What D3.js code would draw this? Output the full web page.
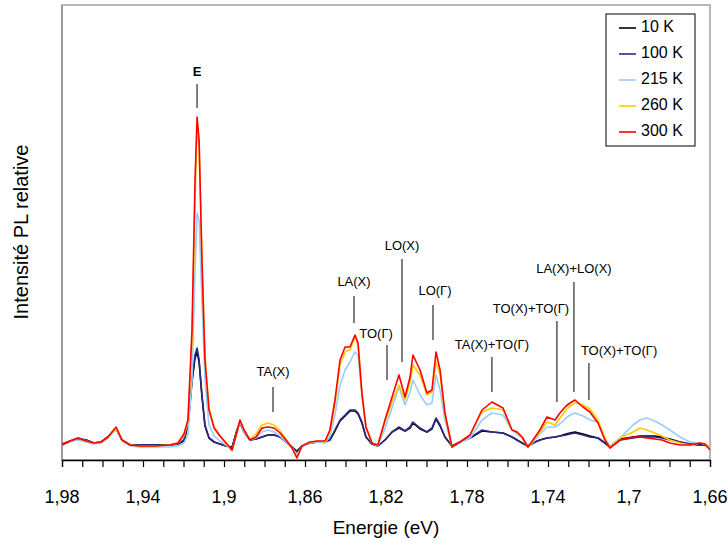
<!DOCTYPE html>
<html><head><meta charset="utf-8">
<script src="https://cdn.jsdelivr.net/npm/d3@7"></script>
<style>body{margin:0;background:#fff}svg{display:block}text{font-family:"Liberation Sans",Arial,sans-serif}</style>
</head><body><div id="chart"></div>
<script>
// Energy grid (eV)
const energy = [1.9800,1.9760,1.9721,1.9681,1.9642,1.9607,1.9573,1.9533,1.9504,1.9464,1.9415,1.9341,1.9267,1.9227,1.9198,1.9178,1.9158,1.9143,1.9133,1.9123,1.9109,1.9094,1.9074,1.9049,1.9020,1.8990,1.8960,1.8936,1.8921,1.8901,1.8872,1.8842,1.8812,1.8783,1.8753,1.8723,1.8694,1.8664,1.8640,1.8615,1.8575,1.8536,1.8501,1.8477,1.8452,1.8427,1.8402,1.8378,1.8353,1.8338,1.8319,1.8299,1.8269,1.8240,1.8205,1.8170,1.8136,1.8106,1.8081,1.8067,1.8032,1.7998,1.7973,1.7953,1.7933,1.7909,1.7874,1.7835,1.7785,1.7726,1.7677,1.7622,1.7578,1.7553,1.7528,1.7499,1.7464,1.7440,1.7405,1.7365,1.7341,1.7311,1.7291,1.7267,1.7227,1.7193,1.7153,1.7119,1.7094,1.7044,1.6980,1.6946,1.6911,1.6872,1.6837,1.6798,1.6748,1.6699,1.6649,1.6625,1.6600];

// Relative PL intensity (a.u.)
const pl300 = [15,19,22,19,17,18,23,33,20,15,14,14,15,17,26,40,130,280,343,320,200,100,50,32,24,17,10,28,40,30,20,23,32,33,32,27,20,12,2,14,18,19,19,30,60,100,113,113,125,117,67,33,17,15,40,63,85,63,83,105,90,67,70,108,90,47,13,18,25,50,58,52,30,28,23,13,23,30,43,40,47,54,57,60,53,48,37,20,12,20,23,23,22,21,20,17,15,15,17,16,10];
const pl260 = [15,19,22,19,17,18,22,32,20,15,14,14,15,17,24,38,120,260,330,315,205,105,52,33,24,17,10,28,40,30,21,26,35,37,35,29,21,12,3,14,18,19,18,28,56,95,108,110,123,115,66,33,17,15,38,58,75,60,78,95,85,65,68,98,85,45,13,18,25,48,52,50,30,28,23,13,22,28,38,35,42,50,54,57,55,51,40,22,12,22,28,32,30,27,24,20,17,15,17,16,12];
const pl215 = [15,18,20,18,16,17,22,31,20,14,13,13,13,14,17,25,80,190,247,240,160,80,35,24,19,15,9,27,38,28,20,22,28,30,28,24,18,12,5,13,17,18,17,24,45,75,90,98,108,105,65,32,17,14,32,52,73,55,68,80,65,55,57,85,70,40,13,17,22,40,47,45,30,26,22,13,20,26,33,33,36,42,45,47,44,40,38,22,14,22,35,40,42,39,35,30,23,18,17,16,13];
const pl100 = [16,19,22,20,17,18,23,32,20,15,15,15,15,16,20,35,80,105,112,100,65,35,22,18,16,14,12,30,38,28,20,21,23,25,25,23,18,13,8,14,17,18,18,20,30,40,45,50,50,47,38,23,16,14,20,28,33,29,33,38,32,28,32,42,35,23,14,18,22,30,28,27,23,20,17,14,18,20,22,23,24,25,26,27,25,23,22,17,13,20,22,23,23,23,22,20,18,16,15,15,13];
const pl10 = [16,19,21,20,17,18,23,31,20,15,15,15,15,16,19,34,78,102,108,98,64,34,22,18,16,14,13,30,37,28,20,21,23,25,25,23,18,13,9,14,17,18,18,20,29,39,44,49,49,46,37,23,16,14,20,28,32,29,32,37,31,28,31,41,34,23,14,18,22,29,28,27,23,20,17,14,18,20,22,23,24,26,27,28,26,24,22,17,13,21,23,24,24,24,23,21,18,16,15,15,13];

const seriesNames = ["10 K","100 K","215 K","260 K","300 K"];
const seriesValues = [pl10, pl100, pl215, pl260, pl300];
const seriesColors = ["#000000","#2a2a86","#99ccff","#ffcc00","#ff0000"];

const xTicks = [1.98,1.94,1.9,1.86,1.82,1.78,1.74,1.7,1.66];
const xTickLabels = ["1,98","1,94","1,9","1,86","1,82","1,78","1,74","1,7","1,66"];

// Annotations: label, label energy, label intensity, line energy, line top, line bottom
const annLabels = ["E","TA(X)","LA(X)","TO(Γ)","LO(X)","LO(Γ)","TA(X)+TO(Γ)","TO(X)+TO(Γ)","LA(X)+LO(X)","TO(X)+TO(Γ)"];
const annLabelE = [1.9133,1.8758,1.8358,1.8249,1.8121,1.7958,1.7677,1.7484,1.7272,1.7049];
const annLabelI = [387,87,177,125,213,168,114,150,190,108];
const annLineE  = [1.9133,1.8758,1.8358,1.8195,1.8121,1.7968,1.7677,1.7356,1.7272,1.7198];
const annLineTop = [376,73,164,115,201,155,103,139,178,97];
const annLineBot = [352,48,137,80,98,120,68,58,68,60];

const W = 728, H = 548;
const svg = d3.select("#chart").append("svg").attr("width", W).attr("height", H);
const x = d3.scaleLinear().domain([1.98, 1.66]).range([62, 710]);
const y = d3.scaleLinear().domain([0, 455]).range([460, 5]);

// plot area frame
svg.append("rect").attr("x", 62).attr("y", 5).attr("width", 648).attr("height", 455)
  .attr("fill", "none").attr("stroke", "#a0a0a0").attr("stroke-width", 1.5);
svg.append("line").attr("x1", 62).attr("x2", 62).attr("y1", 5).attr("y2", 460)
  .attr("stroke", "#909090").attr("stroke-width", 1.5);

const clip = svg.append("clipPath").attr("id", "clip").append("rect")
  .attr("x", 62).attr("y", 0).attr("width", 648).attr("height", 461);

const line = d3.line().x((d, i) => x(energy[i])).y(d => y(d));
const g = svg.append("g").attr("clip-path", "url(#clip)");
seriesValues.forEach((vals, k) => {
  g.append("path").datum(vals).attr("d", line).attr("fill", "none")
    .attr("stroke", seriesColors[k]).attr("stroke-width", 1.6).attr("stroke-linejoin", "round");
});

// x axis
const xAxis = d3.axisBottom(x).tickValues(d3.range(0, 33).map(i => 1.98 - i * 0.01))
  .tickSize(7).tickFormat("");
const ax = svg.append("g").attr("transform", "translate(0,460)").call(xAxis);
ax.select(".domain").attr("stroke", "#000").attr("stroke-width", 1.3);
ax.selectAll(".tick line").attr("stroke", "#000").attr("stroke-width", 1.2);
svg.append("g").selectAll("text").data(xTicks).join("text")
  .attr("x", d => x(d)).attr("y", 498).attr("text-anchor", "middle").attr("dominant-baseline", "middle")
  .attr("font-size", 18).attr("fill", "#000").text((d, i) => xTickLabels[i]);

svg.append("text").attr("x", 386).attr("y", 529).attr("text-anchor", "middle").attr("dominant-baseline", "middle")
  .attr("font-size", 19).text("Energie (eV)");
svg.append("text").attr("transform", "translate(23,232) rotate(-90)").attr("text-anchor", "middle")
  .attr("dominant-baseline", "middle").attr("font-size", 20).text("Intensité PL relative");

// annotations
annLabels.forEach((lab, i) => {
  svg.append("line").attr("x1", x(annLineE[i])).attr("x2", x(annLineE[i]))
    .attr("y1", y(annLineTop[i])).attr("y2", y(annLineBot[i]))
    .attr("stroke", "#555").attr("stroke-width", 1.5);
  svg.append("text").attr("x", x(annLabelE[i])).attr("y", y(annLabelI[i]))
    .attr("text-anchor", "middle").attr("dominant-baseline", "middle")
    .attr("font-size", 13).attr("font-weight", i === 0 ? "bold" : "normal").text(lab);
});

// legend
const lg = svg.append("g");
lg.append("rect").attr("x", 606).attr("y", 14).attr("width", 89).attr("height", 132)
  .attr("fill", "#fff").attr("stroke", "#000").attr("stroke-width", 1);
seriesNames.forEach((n, k) => {
  const yy = 28 + k * 26;
  lg.append("line").attr("x1", 619).attr("x2", 636).attr("y1", yy).attr("y2", yy)
    .attr("stroke", seriesColors[k]).attr("stroke-width", 1.6);
  lg.append("text").attr("x", 641).attr("y", yy).attr("dominant-baseline", "middle")
    .attr("font-size", 16).text(n);
});
</script></body></html>
